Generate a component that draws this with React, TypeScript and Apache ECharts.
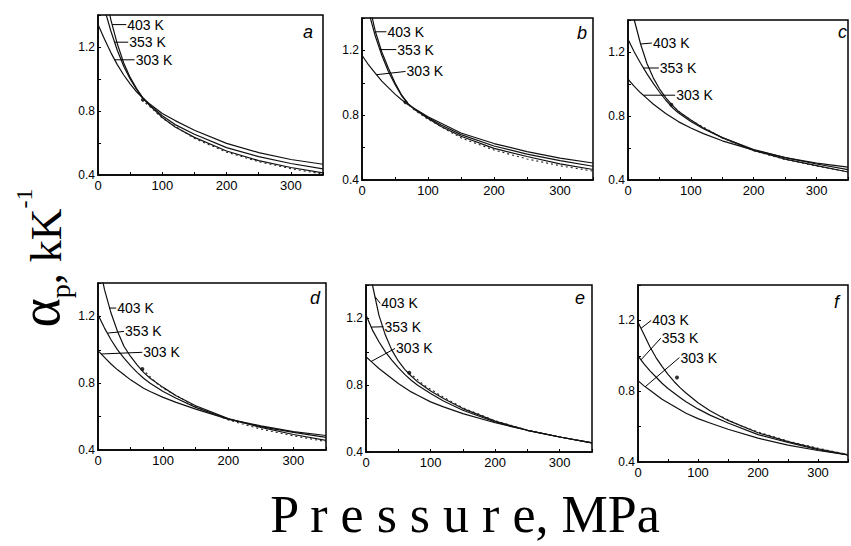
import React, { useEffect, useRef } from "react";
import * as echarts from "echarts";

// Pressure grid (MPa) for the model curves
const P = [0, 10, 20, 30, 40, 50, 60, 70, 80, 100, 120, 150, 200, 250, 300, 350];
const TEMPS = ["403 K", "353 K", "303 K"];
const PANELS = ["a", "b", "c", "d", "e", "f"];
const X_TICKS = [0, 100, 200, 300];
const Y_TICKS = [0.4, 0.8, 1.2];

// alpha_p (kK^-1) — panel a
const a403 = [1.8, 1.58, 1.37, 1.22, 1.1, 1.01, 0.94, 0.88, 0.835, 0.76, 0.7, 0.635, 0.55, 0.49, 0.447, 0.413];
const a353 = [1.62, 1.44, 1.3, 1.18, 1.08, 1.0, 0.935, 0.88, 0.84, 0.77, 0.715, 0.655, 0.571, 0.515, 0.472, 0.438];
const a303 = [1.34, 1.25, 1.165, 1.09, 1.025, 0.97, 0.92, 0.88, 0.845, 0.785, 0.74, 0.68, 0.598, 0.54, 0.497, 0.467];
const aExp = [[68, 0.87], [80, 0.83], [100, 0.755], [150, 0.628], [200, 0.543], [250, 0.483], [300, 0.44], [350, 0.405]];
const aDot = [70, 0.87];
// panel b
const b403 = [1.72, 1.5, 1.32, 1.19, 1.09, 1.0, 0.925, 0.87, 0.835, 0.78, 0.73, 0.67, 0.595, 0.545, 0.5, 0.465];
const b353 = [1.62, 1.44, 1.29, 1.17, 1.07, 0.99, 0.92, 0.87, 0.835, 0.785, 0.74, 0.68, 0.61, 0.56, 0.52, 0.485];
const b303 = [1.17, 1.11, 1.06, 1.01, 0.97, 0.93, 0.895, 0.865, 0.84, 0.79, 0.75, 0.69, 0.625, 0.575, 0.535, 0.505];
const bExp = [[66, 0.88], [80, 0.83], [100, 0.775], [150, 0.66], [200, 0.585], [250, 0.53], [300, 0.488], [350, 0.455]];
const bDot = [66, 0.88];
// panel c
const c403 = [1.62, 1.4, 1.25, 1.13, 1.04, 0.97, 0.915, 0.87, 0.83, 0.775, 0.725, 0.665, 0.585, 0.53, 0.49, 0.45];
const c353 = [1.28, 1.2, 1.13, 1.065, 1.005, 0.95, 0.9, 0.855, 0.82, 0.765, 0.72, 0.665, 0.59, 0.54, 0.5, 0.465];
const c303 = [1.03, 0.985, 0.945, 0.91, 0.875, 0.845, 0.815, 0.79, 0.765, 0.725, 0.69, 0.645, 0.587, 0.54, 0.505, 0.48];
const cExp = [[69, 0.87], [85, 0.815], [100, 0.775], [150, 0.662], [200, 0.582], [250, 0.528], [300, 0.487], [350, 0.452]];
const cDot = [69, 0.87];
// panel d
const d403 = [1.55, 1.36, 1.22, 1.11, 1.02, 0.96, 0.91, 0.865, 0.83, 0.775, 0.725, 0.665, 0.588, 0.535, 0.493, 0.458];
const d353 = [1.21, 1.13, 1.06, 1.0, 0.95, 0.905, 0.865, 0.83, 0.8, 0.75, 0.71, 0.655, 0.585, 0.54, 0.505, 0.476];
const d303 = [0.995, 0.955, 0.915, 0.88, 0.85, 0.82, 0.795, 0.77, 0.75, 0.715, 0.685, 0.645, 0.585, 0.545, 0.51, 0.487];
const dExp = [[68, 0.885], [90, 0.8], [100, 0.77], [150, 0.66], [200, 0.58], [250, 0.525], [300, 0.485], [350, 0.45]];
const dDot = [68, 0.885];
// panel e
const e403 = [1.62, 1.4, 1.22, 1.1, 1.01, 0.945, 0.895, 0.855, 0.82, 0.765, 0.72, 0.66, 0.585, 0.53, 0.49, 0.455];
const e353 = [1.22, 1.13, 1.06, 1.0, 0.95, 0.905, 0.865, 0.83, 0.8, 0.75, 0.705, 0.65, 0.58, 0.53, 0.49, 0.455];
const e303 = [0.97, 0.935, 0.9, 0.87, 0.84, 0.81, 0.785, 0.76, 0.74, 0.7, 0.67, 0.63, 0.575, 0.53, 0.49, 0.455];
const eExp = [[67, 0.875], [90, 0.8], [120, 0.728], [150, 0.665], [200, 0.587], [250, 0.532], [300, 0.491], [350, 0.455]];
const eDot = [67, 0.875];
// panel f
const f403 = [1.19, 1.12, 1.05, 0.99, 0.94, 0.895, 0.855, 0.82, 0.79, 0.735, 0.69, 0.635, 0.565, 0.515, 0.475, 0.44];
const f353 = [1.0, 0.955, 0.915, 0.88, 0.845, 0.815, 0.79, 0.765, 0.74, 0.7, 0.665, 0.62, 0.555, 0.51, 0.47, 0.44];
const f303 = [0.86, 0.83, 0.805, 0.78, 0.755, 0.735, 0.715, 0.695, 0.675, 0.645, 0.62, 0.585, 0.535, 0.495, 0.465, 0.44];
const fExp = [[140, 0.655], [170, 0.607], [200, 0.57], [250, 0.518], [300, 0.478], [350, 0.442]];
const fDot = [65, 0.877];

// label leader lines: [P on curve, alpha on curve, P of label, alpha of label] for 403, 353, 303 K
const aLead = [[22, 1.34, 44, 1.34], [26, 1.23, 47, 1.23], [25, 1.12, 57, 1.12]];
const bLead = [[20, 1.315, 37, 1.315], [27, 1.205, 52, 1.205], [22, 1.05, 66, 1.07]];
const cLead = [[20, 1.25, 38, 1.256], [24, 1.1, 49, 1.1], [25, 0.93, 75, 0.93]];
const dLead = [[17, 1.25, 28, 1.25], [15, 1.1, 40, 1.11], [5, 0.975, 68, 0.985]];
const eLead = [[14, 1.33, 22, 1.29], [8, 1.148, 27, 1.15], [8, 0.942, 45, 1.02]];
const fLead = [[5, 1.155, 22, 1.2], [5, 0.977, 38, 1.1], [12, 0.825, 69, 0.99]];

const CURVES = [
  [a403, a353, a303],
  [b403, b353, b303],
  [c403, c353, c303],
  [d403, d353, d303],
  [e403, e353, e303],
  [f403, f353, f303],
];
const EXPS = [aExp, bExp, cExp, dExp, eExp, fExp];
const DOTS = [aDot, bDot, cDot, dDot, eDot, fDot];
const LEADS = [aLead, bLead, cLead, dLead, eLead, fLead];

// layout (pixels) of each panel box
const BOXES = [
  { left: 98, top: 15, width: 225, height: 160 },
  { left: 362, top: 18, width: 231, height: 162 },
  { left: 628, top: 20, width: 228, height: 160 },
  { left: 98, top: 283, width: 228, height: 167 },
  { left: 366, top: 285, width: 226, height: 167 },
  { left: 638, top: 285, width: 226, height: 177 },
];
const LETTER_POS = [
  [303, 23], [577, 24], [838, 23], [310, 289], [575, 289], [834, 293],
];

const SANS = "Liberation Sans, Arial, sans-serif";
const SERIF = "Liberation Serif, Times New Roman, serif";

function buildOption() {
  const grid: any[] = [];
  const xAxis: any[] = [];
  const yAxis: any[] = [];
  const series: any[] = [];
  const title: any[] = [];

  PANELS.forEach((name, i) => {
    grid.push({ ...BOXES[i], show: true, borderColor: "#000", borderWidth: 1.5, containLabel: false });
    xAxis.push({
      type: "value", gridIndex: i, min: 0, max: 350, interval: 50,
      axisLine: { lineStyle: { color: "#000", width: 1.5 } },
      axisTick: { inside: true, length: 3, lineStyle: { color: "#000" } },
      splitLine: { show: false },
      axisLabel: {
        color: "#000", fontSize: 13, fontFamily: SANS, margin: 4,
        formatter: (v: number) => (X_TICKS.includes(v) ? String(v) : ""),
      },
    });
    yAxis.push({
      type: "value", gridIndex: i, min: 0.4, max: 1.4, interval: 0.2,
      axisLine: { lineStyle: { color: "#000", width: 1.5 } },
      axisTick: { inside: true, length: 3, lineStyle: { color: "#000" } },
      splitLine: { show: false },
      axisLabel: {
        color: "#000", fontSize: 12, fontFamily: SANS, margin: 3,
        formatter: (v: number) => (Y_TICKS.some((t) => Math.abs(t - v) < 1e-6) ? v.toFixed(1) : ""),
      },
    });
    title.push({
      text: name, left: LETTER_POS[i][0], top: LETTER_POS[i][1], padding: 0,
      textStyle: { fontSize: 18, fontStyle: "italic", fontWeight: "normal", color: "#000", fontFamily: SANS },
    });

    CURVES[i].forEach((arr, k) => {
      series.push({
        type: "line", name: `${name}-${TEMPS[k]}`, xAxisIndex: i, yAxisIndex: i,
        data: P.map((p, j) => [p, arr[j]]), smooth: false,
        symbol: "none", clip: true, silent: true,
        lineStyle: { color: "#111", width: 1.2, join: "round" },
      });
    });
    series.push({
      type: "line", name: `${name}-exp`, xAxisIndex: i, yAxisIndex: i,
      data: EXPS[i], smooth: false, symbol: "none", clip: true, silent: true,
      lineStyle: { color: "#222", width: 1.1, type: [2, 3] },
    });
    series.push({
      type: "scatter", name: `${name}-dot`, xAxisIndex: i, yAxisIndex: i,
      data: [DOTS[i]], symbol: "circle", symbolSize: 4, itemStyle: { color: "#000" }, silent: true,
    });
    LEADS[i].forEach((ld, k) => {
      series.push({
        type: "line", name: `${name}-lead-${k}`, xAxisIndex: i, yAxisIndex: i,
        data: [[ld[0], ld[1]], [ld[2], ld[3]]], symbol: "none", silent: true,
        lineStyle: { color: "#000", width: 1 },
        endLabel: {
          show: true, formatter: TEMPS[k], distance: 1,
          color: "#000", fontSize: 14, fontFamily: SANS,
        },
      });
    });
  });

  return {
    animation: false,
    backgroundColor: "#fff",
    title,
    grid,
    xAxis,
    yAxis,
    series,
    graphic: [
      {
        type: "text", x: 40, y: 258, rotation: Math.PI / 2,
        style: {
          text: "{a|α}{s|p}{b|, kK}{u|-1}",
          align: "center", verticalAlign: "middle",
          rich: {
            a: { fontSize: 56, fontFamily: SERIF, fill: "#000", verticalAlign: "bottom" },
            s: { fontSize: 28, fontFamily: SERIF, fill: "#000", verticalAlign: "bottom", padding: [0, 0, -6, 0] },
            b: { fontSize: 44, fontFamily: SERIF, fill: "#000", verticalAlign: "bottom" },
            u: { fontSize: 24, fontFamily: SERIF, fill: "#000", verticalAlign: "top" },
          },
        },
      },
      {
        type: "text", x: 465, y: 514,
        style: {
          text: "P r e s s u r e, MPa",
          fontSize: 52, fontFamily: SERIF, fill: "#000",
          align: "center", verticalAlign: "middle",
        },
      },
    ],
  };
}

export default function App() {
  const ref = useRef<HTMLDivElement>(null);
  useEffect(() => {
    if (!ref.current) return;
    const chart = echarts.init(ref.current, undefined, { renderer: "svg" });
    chart.setOption(buildOption() as any);
    return () => chart.dispose();
  }, []);
  return <div ref={ref} style={{ width: 851, height: 546, position: "absolute", left: 0, top: 0 }} />;
}
